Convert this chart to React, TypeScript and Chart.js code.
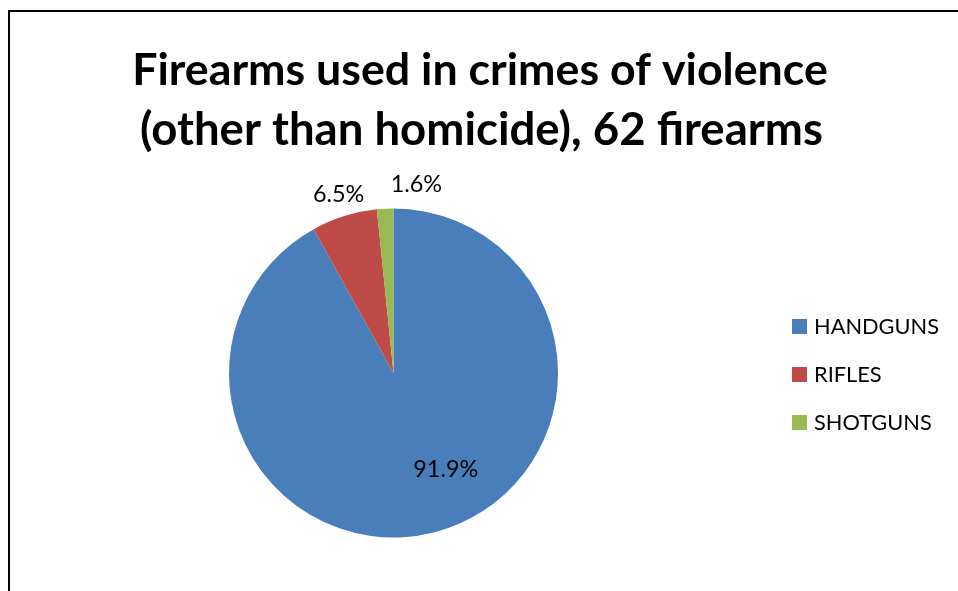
import React, { useEffect, useRef } from "react";
import { Chart, registerables } from "chart.js";

Chart.register(...registerables);

const categories = ["HANDGUNS", "RIFLES", "SHOTGUNS"];
const counts = [57, 4, 1];
const colors = ["#4A7EBB", "#BE4B48", "#98B954"];
const titleLines = ["Firearms used in crimes of violence", "(other than homicide), 62 firearms"];

const FAMILY = 'Lato, "Open Sans", sans-serif';

function fitSize(ctx: CanvasRenderingContext2D, text: string, weight: string, target: number) {
  ctx.font = `${weight} 100px ${FAMILY}`;
  const w = ctx.measureText(text).width;
  return (100 * target) / w;
}

const overlayPlugin = {
  id: "overlay",
  afterDraw(chart: any) {
    const ctx: CanvasRenderingContext2D = chart.ctx;
    ctx.save();

    // outer chart border (extends past right/bottom)
    ctx.strokeStyle = "#000";
    ctx.lineWidth = 2;
    ctx.strokeRect(9, 11, 1100, 1100);

    // title
    ctx.fillStyle = "#000";
    ctx.textAlign = "center";
    ctx.textBaseline = "alphabetic";
    const tSize = fitSize(ctx, titleLines[0], "bold", 696);
    const tSize2 = Math.min(fitSize(ctx, titleLines[1], "bold", 683), tSize * 1.04);
    ctx.font = `bold ${tSize}px ${FAMILY}`;
    ctx.fillText(titleLines[0], 480, 85);
    ctx.font = `bold ${tSize2}px ${FAMILY}`;
    ctx.fillText(titleLines[1], 481.5, 145);

    // legend
    const lSize = fitSize(ctx, categories[0], "normal", 125);
    ctx.font = `normal ${lSize}px ${FAMILY}`;
    ctx.textAlign = "left";
    categories.forEach((c, i) => {
      const top = 319 + i * 48;
      ctx.fillStyle = colors[i];
      ctx.fillRect(792, top, 15, 15);
      ctx.fillStyle = "#000";
      ctx.fillText(c, 814, top + 14.5);
    });

    // data labels
    const meta = chart.getDatasetMeta(0);
    const total = counts.reduce((a, b) => a + b, 0);
    const place = [
      { shift: -13.9, r: 0.668 },
      { shift: 0.3, r: 1.134 },
      { shift: 9.8, r: 1.156 },
    ];
    const dSize = fitSize(ctx, "91.9%", "normal", 65);
    ctx.font = `normal ${dSize}px ${FAMILY}`;
    ctx.textAlign = "center";
    ctx.textBaseline = "alphabetic";
    ctx.fillStyle = "#000";
    meta.data.forEach((arc: any, i: number) => {
      const p = arc.getProps(["x", "y", "startAngle", "endAngle", "outerRadius"], true);
      const ang = (p.startAngle + p.endAngle) / 2 + (place[i].shift * Math.PI) / 180;
      const rr = p.outerRadius * place[i].r;
      const cx = p.x + Math.cos(ang) * rr;
      const cy = p.y + Math.sin(ang) * rr;
      const txt = ((counts[i] / total) * 100).toFixed(1) + "%";
      ctx.fillText(txt, cx, cy + dSize * 0.32);
    });

    ctx.restore();
  },
};

export default function App() {
  const ref = useRef<HTMLCanvasElement | null>(null);
  useEffect(() => {
    if (!ref.current) return;
    const chart = new Chart(ref.current, {
      type: "pie",
      data: {
        labels: categories,
        datasets: [
          {
            data: counts,
            backgroundColor: colors,
            borderWidth: 0,
          },
        ],
      },
      options: {
        responsive: false,
        maintainAspectRatio: false,
        animation: false,
        layout: { padding: { left: 229, right: 400, top: 208, bottom: 53 } },
        plugins: {
          legend: { display: false },
          title: { display: false },
          tooltip: { enabled: false },
        },
      },
      plugins: [overlayPlugin],
    });
    return () => chart.destroy();
  }, []);
  return (
    <div style={{ position: "absolute", left: 0, top: 0, width: 958, height: 591, background: "#fff" }}>
      <canvas ref={ref} width={958} height={591} style={{ display: "block" }} />
    </div>
  );
}
